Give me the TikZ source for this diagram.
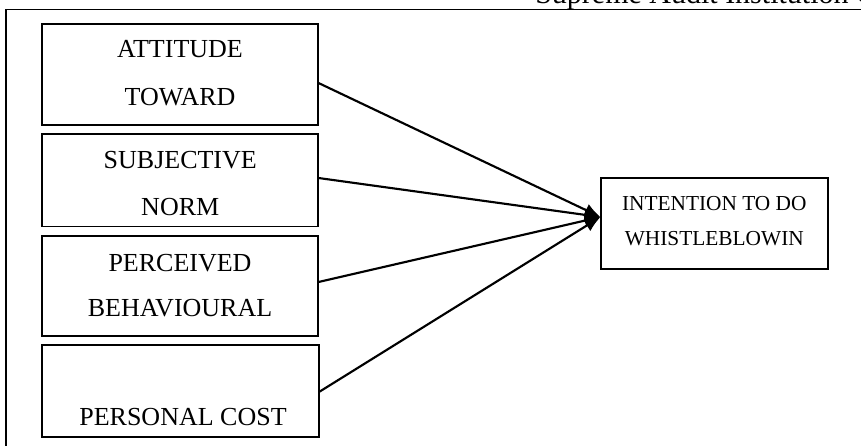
\documentclass[tikz,border=0pt]{standalone}
\usepackage{fontspec}
\setmainfont{Liberation Serif}
\usetikzlibrary{arrows.meta}
\begin{document}
\begin{tikzpicture}[x=0.75pt,y=-0.75pt,
  box/.style={draw,line width=1.3pt,inner sep=0pt,minimum width=207pt},
  lbl/.style={anchor=base,inner sep=0pt,font=\fontsize{19.5}{20}\selectfont},
  tlbl/.style={anchor=base,inner sep=0pt,font=\fontsize{16}{17}\selectfont},
  conn/.style={line width=1.6pt,-{Latex[length=12pt,width=10pt]}}]
\useasboundingbox (0,0) rectangle (861,446);
\begin{scope}
\clip (0,0) rectangle (861,446);
\node[anchor=base west,inner sep=0pt,font=\fontsize{22.5}{24}\selectfont] (hdr) at (535,3) {Supreme Audit Institution C};
\draw[line width=1.3pt] (6,9.5) rectangle (880,470);
\end{scope}
% left boxes
\node[box,minimum height=75.75pt] (b1) at (180,74.5) {};
\node[box,minimum height=69.4pt] (b2) at (180.25,180.25) {};
\node[box,minimum height=75pt] (b3) at (180,286) {};
\node[box,minimum height=69pt,minimum width=207.75pt] (b4) at (180.5,391) {};
% target
\node[box,minimum width=170.5pt,minimum height=68.5pt] (tg) at (714.3,223.3) {};
% labels
\node[lbl] (l1a) at (180,57.7) {ATTITUDE};
\node[lbl] (l1b) at (180,105) {TOWARD};
\node[lbl] (l2a) at (180.25,168) {SUBJECTIVE};
\node[lbl] (l2b) at (180.25,215) {NORM};
\node[lbl] (l3a) at (180,271.7) {PERCEIVED};
\node[lbl] (l3b) at (180,316.7) {BEHAVIOURAL};
\node[lbl] (l4) at (183,425) {PERSONAL COST};
\node[tlbl] (tga) at (714.3,210) {INTENTION TO DO};
\node[tlbl] (tgb) at (714.3,245) {WHISTLEBLOWIN};
% connectors
\coordinate (s1) at (318.5,83);
\coordinate (s2) at (318.5,178);
\coordinate (s3) at (318.5,282);
\coordinate (s4) at (319,392);
\coordinate (t) at (600.5,217);
\draw[conn] (s1) -- (t);
\draw[conn] (s2) -- (t);
\draw[conn] (s3) -- (t);
\draw[conn] (s4) -- (t);
\end{tikzpicture}
\end{document}
